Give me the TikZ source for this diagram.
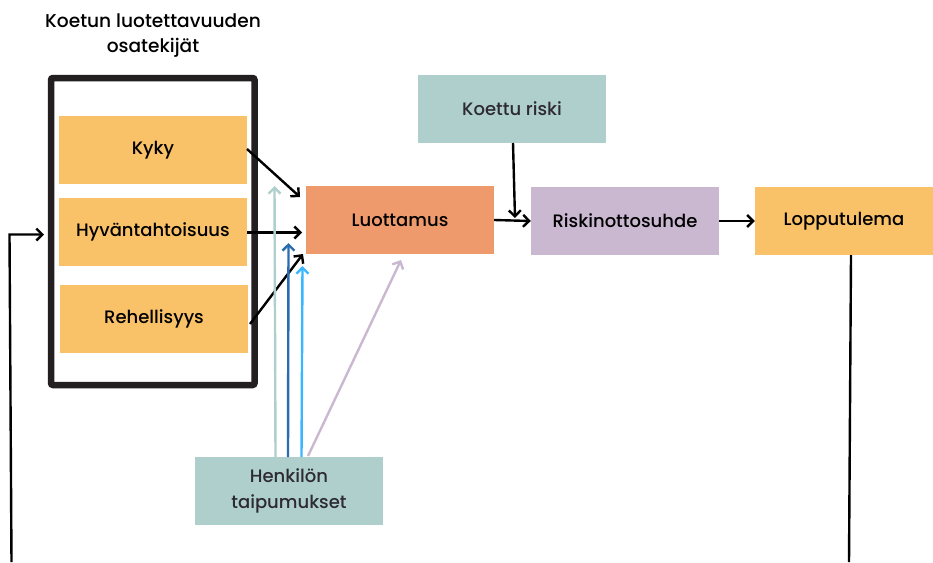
\documentclass[tikz,border=0pt]{standalone}
\usepackage{fontspec}
\setmainfont{Poppins}[UprightFont={* Medium}]
\usetikzlibrary{arrows.meta}
\definecolor{boxorange}{HTML}{FAC268}
\definecolor{boxsalmon}{HTML}{EF9A6C}
\definecolor{boxteal}{HTML}{AECFCC}
\definecolor{boxlilac}{HTML}{C9B8D0}
\definecolor{darktext}{HTML}{2D2A32}
\definecolor{arrteal}{HTML}{AECFCC}
\definecolor{arrblue}{HTML}{2A6CB0}
\definecolor{arrlight}{HTML}{38B6FF}
\definecolor{framec}{HTML}{231F20}
\tikzset{
  box/.style={draw=none, minimum width=188pt, minimum height=68pt, inner sep=0pt, font=\fontsize{18}{26}\selectfont, align=center},
  conn/.style={line width=2.4pt, -{Straight Barb[length=6pt,width=12pt,line width=2.4pt]}},
  plain/.style={line width=2.4pt},
}
\begin{document}
\begin{tikzpicture}[x=1pt,y=-1pt]
\useasboundingbox (0,0) rectangle (933,562);
% frame
\draw[line width=6.5pt, framec, rounded corners=2pt] (51,78) rectangle (254.5,385);
\node[font=\fontsize{18.6}{25}\selectfont, align=center, text=black] (title) at (153,36) {Koetun luotettavuuden\\osatekijät};
% boxes
\node[box, fill=boxorange] (kyky) at (153,150) {Kyky};
\node[box, fill=boxorange] (hyv) at (153,232) {Hyväntahtoisuus};
\node[box, fill=boxorange] (reh) at (154,319) {Rehellisyys};
\node[box, fill=boxsalmon] (luo) at (400,220) {Luottamus};
\node[box, fill=boxteal, text=darktext] (riski) at (512,109) {Koettu riski};
\node[box, fill=boxlilac] (ris) at (625,221) {Riskinottosuhde};
\node[box, fill=boxorange, minimum width=178pt] (lop) at (844,221) {Lopputulema};
\node[box, fill=boxteal, text=darktext] (henk) at (289,491) {Henkilön\\taipumukset};
% coordinates
\coordinate (k1) at (247,149);
\coordinate (k2) at (300,197);
\coordinate (h1) at (247,232.5);
\coordinate (h2) at (302,232.5);
\coordinate (r1) at (250,324);
\coordinate (r2) at (303,254);
\coordinate (t1) at (275.5,457);
\coordinate (t2) at (274.5,186);
\coordinate (b1) at (288,457);
\coordinate (b2) at (288.5,243);
\coordinate (l1) at (301.5,457);
\coordinate (l2) at (302.5,266);
\coordinate (p1) at (308,456);
\coordinate (p2) at (401,260);
\coordinate (kr1) at (513,143);
\coordinate (kr2) at (515,218);
\coordinate (lo1) at (851,255);
\coordinate (lo2) at (849,562);
\coordinate (fb1) at (11.5,562);
\coordinate (fb2) at (9.5,234.5);
\coordinate (fb3) at (44,234.5);
% arrows
\draw[conn] (k1) -- (k2);
\draw[conn] (h1) -- (h2);
\draw[conn] (r1) -- (r2);
\draw[conn, arrteal] (t1) -- (t2);
\draw[conn, arrblue] (b1) -- (b2);
\draw[conn, arrlight] (l1) -- (l2);
\draw[conn, boxlilac] (p1) -- (p2);
\draw[conn] (luo.east) -- (ris.west);
\draw[conn] (kr1) -- (kr2);
\draw[conn] (ris.east) -- (lop.west);
\draw[plain] (lo1) -- (lo2);
\draw[conn] (fb1) -- (fb2) -- (fb3);
\end{tikzpicture}
\end{document}
